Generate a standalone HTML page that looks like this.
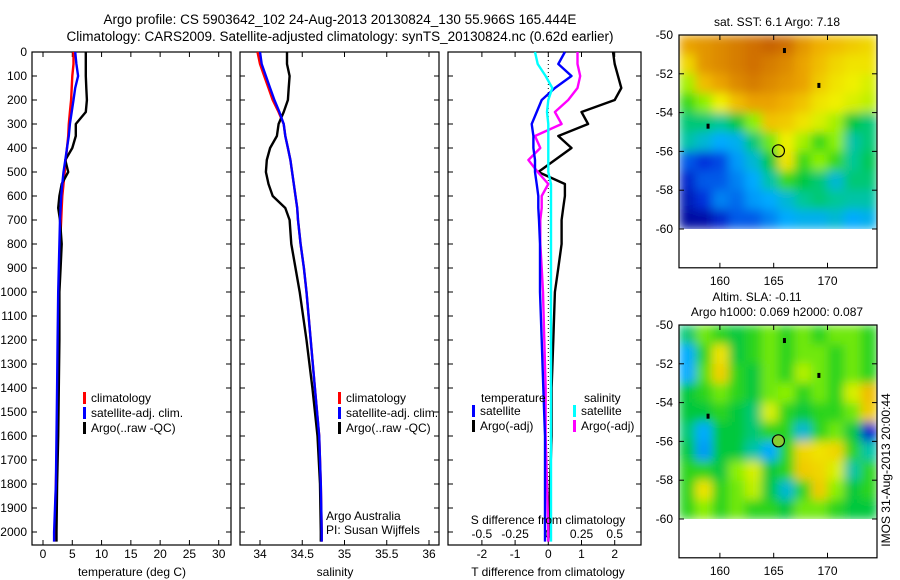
<!DOCTYPE html>
<html><head><meta charset="utf-8">
<style>
html,body{margin:0;padding:0;background:#fff;}
svg{display:block;font-family:"Liberation Sans",sans-serif;}
text{font-size:12px;fill:#000;}
</style></head>
<body>
<svg id="chart" width="900" height="580" viewBox="0 0 900 580" xmlns="http://www.w3.org/2000/svg">
<defs>
<filter id="blur" x="0" y="0" width="1" height="1"><feGaussianBlur stdDeviation="5" edgeMode="duplicate"/></filter>
<clipPath id="clipTop"><rect x="679" y="35" width="198" height="194"/></clipPath>
<clipPath id="clipBot"><rect x="679" y="325" width="198" height="194"/></clipPath>
</defs>
<text x="340" y="24" text-anchor="middle" style="font-size:13.5px">Argo profile: CS 5903642_102 24-Aug-2013 20130824_130 55.966S 165.444E</text>
<text x="340" y="41" text-anchor="middle" style="font-size:13.5px">Climatology: CARS2009. Satellite-adjusted climatology: synTS_20130824.nc (0.62d earlier)</text>
<g id="g"></g>
</svg>
<script>
const depths=[0,50,100,150,200,250,300,350,400,450,500,550,600,650,700,800,900,1000,1200,1400,1600,1800,2000,2040];
const tempClim=[5.2,5.2,5.0,4.9,4.8,4.6,4.4,4.3,4.1,3.9,3.7,3.5,3.3,3.2,3.1,2.9,2.8,2.7,2.6,2.5,2.4,2.2,2.0,1.9];
const tempSat=[5.5,5.7,6.0,5.5,5.2,4.9,4.6,4.4,4.1,3.8,3.5,3.3,3.1,3.0,2.9,2.8,2.7,2.6,2.5,2.4,2.3,2.2,1.9,1.9];
const tempArgo=[7.3,7.3,7.3,7.4,7.5,7.3,5.6,5.6,5.0,3.8,4.3,3.2,2.8,2.6,2.9,3.2,3.0,2.8,2.8,2.7,2.6,2.4,2.3,2.3];
const salClim=[33.97,34.0,34.05,34.1,34.15,34.22,34.28,34.3,34.33,34.36,34.38,34.4,34.42,34.44,34.45,34.48,34.52,34.55,34.6,34.65,34.7,34.72,34.73,34.73];
const salSat=[34.0,34.02,34.07,34.12,34.17,34.23,34.28,34.3,34.33,34.36,34.38,34.4,34.42,34.44,34.45,34.48,34.52,34.55,34.6,34.65,34.7,34.72,34.73,34.73];
const salArgo=[34.32,34.32,34.35,34.34,34.33,34.28,34.22,34.2,34.12,34.08,34.07,34.1,34.15,34.3,34.35,34.37,34.42,34.47,34.55,34.62,34.68,34.71,34.72,34.72];
const tDiffArgo=[1.95,2.0,2.1,2.2,2.0,1.0,1.2,0.3,0.7,0.2,-0.3,0.5,0.5,0.45,0.4,0.4,0.3,0.2,0.15,0.1,0.1,0.05,0.02,0.0];
const tDiffSat=[0.5,0.3,0.7,0.2,-0.2,-0.35,-0.5,-0.45,-0.45,-0.4,-0.4,-0.35,-0.3,-0.3,-0.28,-0.25,-0.25,-0.25,-0.2,-0.15,-0.1,-0.1,-0.1,-0.1];
const sDiffSat=[-0.1,-0.08,-0.02,0.03,0.0,-0.01,0.0,0.0,0.0,0.0,0.0,0.02,0.02,0.02,0.02,0.02,0.02,0.02,0.02,0.02,0.02,0.02,0.02,0.02];
const sDiffArgo=[0.22,0.22,0.24,0.22,0.15,0.05,0.1,-0.1,-0.06,-0.15,-0.08,0.0,-0.05,-0.05,-0.06,-0.06,-0.05,-0.04,-0.03,-0.02,-0.02,-0.01,0.0,0.0];
const depthTicks=[0,100,200,300,400,500,600,700,800,900,1000,1100,1200,1300,1400,1500,1600,1700,1800,1900,2000];
const tempTicks=[0,5,10,15,20,25,30];
const salTicks=[34,34.5,35,35.5,36];
const tDiffTicks=[-2,-1,0,1,2];
const sDiffTicks=[-0.5,-0.25,0,0.25,0.5];
const sstGrid=[
[0.82,0.84,0.86,0.88,0.9,0.92,0.9,0.84,0.8,0.78,0.76,0.74],
[0.74,0.84,0.86,0.88,0.9,0.88,0.86,0.82,0.78,0.74,0.72,0.72],
[0.64,0.78,0.82,0.86,0.88,0.86,0.84,0.82,0.76,0.72,0.7,0.68],
[0.56,0.62,0.7,0.78,0.82,0.82,0.8,0.77,0.72,0.7,0.68,0.66],
[0.45,0.45,0.42,0.5,0.62,0.77,0.76,0.72,0.68,0.64,0.5,0.45],
[0.4,0.35,0.3,0.32,0.45,0.6,0.7,0.64,0.56,0.62,0.4,0.45],
[0.2,0.15,0.18,0.28,0.35,0.5,0.72,0.56,0.62,0.56,0.42,0.48],
[0.12,0.2,0.2,0.25,0.3,0.4,0.56,0.5,0.45,0.35,0.45,0.45],
[0.08,0.15,0.25,0.22,0.28,0.3,0.35,0.42,0.45,0.42,0.4,0.4],
[0.04,0.05,0.12,0.2,0.2,0.25,0.3,0.32,0.32,0.35,0.3,0.32]];
const slaGrid=[
[0.45,0.6,0.55,0.5,0.55,0.6,0.55,0.6,0.55,0.6,0.6,0.55],
[0.3,0.55,0.72,0.5,0.55,0.6,0.55,0.6,0.6,0.55,0.6,0.55],
[0.3,0.58,0.75,0.55,0.5,0.6,0.55,0.65,0.6,0.55,0.6,0.55],
[0.5,0.55,0.6,0.55,0.5,0.6,0.62,0.55,0.6,0.55,0.68,0.78],
[0.5,0.5,0.55,0.5,0.45,0.68,0.55,0.5,0.55,0.55,0.6,0.76],
[0.45,0.3,0.5,0.5,0.45,0.55,0.55,0.35,0.55,0.6,0.5,0.12],
[0.5,0.28,0.5,0.5,0.4,0.3,0.55,0.74,0.72,0.74,0.55,0.4],
[0.55,0.55,0.5,0.62,0.68,0.5,0.55,0.76,0.74,0.68,0.4,0.55],
[0.55,0.72,0.55,0.6,0.66,0.5,0.35,0.55,0.76,0.62,0.5,0.55],
[0.55,0.62,0.55,0.6,0.55,0.55,0.5,0.6,0.6,0.55,0.5,0.5]];
const latTicks=[-50,-52,-54,-56,-58,-60];
const lonTicks=[160,165,170];

const NS="http://www.w3.org/2000/svg";
const G=document.getElementById('g');
function el(tag,attrs,parent){const e=document.createElementNS(NS,tag);for(const k in attrs)e.setAttribute(k,attrs[k]);(parent||G).appendChild(e);return e;}
function txt(s,x,y,anchor,size){const e=el('text',{x:x,y:y,'text-anchor':anchor||'start'});if(size)e.style.fontSize=size+'px';e.textContent=s;return e;}

const yD=d=>52+d*0.24;
const PY0=52,PY1=545;
function panel(x0,x1,name){const r=el('rect',{x:x0,y:PY0,width:x1-x0,height:PY1-PY0,fill:'none',stroke:'#000','stroke-width':1.2});

}
function line(xs,sx,color,name,w){let d='';xs.forEach((v,i)=>{d+=(i?'L':'M')+sx(v).toFixed(1)+','+yD(depths[i]).toFixed(1);});
const p=el('path',{d:d,fill:'none',stroke:color,'stroke-width':w||2.4,'stroke-linejoin':'round'});

}
function xticks(ticks,sx,labelY){ticks.forEach(t=>{const x=sx(t);el('line',{x1:x,x2:x,y1:PY1,y2:PY1-5,stroke:'#000'});el('line',{x1:x,x2:x,y1:PY0,y2:PY0+5,stroke:'#000'});
const tl=txt(String(t),x,labelY,'middle');

});}
function legend(x,y,items){items.forEach((it,i)=>{el('rect',{x:x,y:y+i*15-10,width:3,height:12,fill:it[0]});
const t=txt(it[1],x+8,y+i*15);

});}

// Panel 1 temperature
const sxT=v=>43+v*5.857;
panel(32,231,'temperature-panel');
depthTicks.forEach(d=>{const y=yD(d);el('line',{x1:32,x2:37,y1:y,y2:y,stroke:'#000'});el('line',{x1:226,x2:231,y1:y,y2:y,stroke:'#000'});
const t=txt(String(d),27,y+4,'end');

});
xticks(tempTicks,sxT,558);
line(tempClim,sxT,'#f00','temp-climatology-line');
line(tempArgo,sxT,'#000','temp-argo-line');
line(tempSat,sxT,'#00f','temp-satellite-line');
legend(83,402,[['#f00','climatology'],['#00f','satellite-adj. clim.'],['#000','Argo(..raw -QC)']]);
const xl1=txt('temperature (deg C)',132,576,'middle');

// Panel 2 salinity
const sxS=v=>260+(v-34)*84.5;
panel(240,439,'salinity-panel');
depthTicks.forEach(d=>{const y=yD(d);el('line',{x1:240,x2:245,y1:y,y2:y,stroke:'#000'});el('line',{x1:434,x2:439,y1:y,y2:y,stroke:'#000'});});
xticks(salTicks,sxS,558);
line(salClim,sxS,'#f00','salinity-climatology-line');
line(salArgo,sxS,'#000','salinity-argo-line');
line(salSat,sxS,'#00f','salinity-satellite-line');
legend(338,402,[['#f00','climatology'],['#00f','satellite-adj. clim.'],['#000','Argo(..raw -QC)']]);
txt('Argo Australia',326,520);txt('PI: Susan Wijffels',326,534);
const xl2=txt('salinity',335,576,'middle');

// Panel 3 differences
const sxTd=v=>548.3+v*33.2;
const sxSd=v=>548.3+v*132.8;
panel(448,641,'difference-panel');
depthTicks.forEach(d=>{const y=yD(d);el('line',{x1:448,x2:453,y1:y,y2:y,stroke:'#000'});el('line',{x1:636,x2:641,y1:y,y2:y,stroke:'#000'});});
el('line',{x1:sxTd(0),x2:sxTd(0),y1:PY0,y2:PY1,stroke:'#000','stroke-dasharray':'1,3'});
xticks(tDiffTicks,sxTd,558);
sDiffTicks.forEach(t=>{const tl=txt(String(t),sxSd(t),538,'middle');});
line(tDiffArgo,sxTd,'#000','t-diff-argo-line');
line(sDiffArgo,sxSd,'#f0f','s-diff-argo-line');
line(tDiffSat,sxTd,'#00f','t-diff-satellite-line');
line(sDiffSat,sxSd,'#0ff','s-diff-satellite-line');
txt('temperature',481,402);txt('salinity',584,402);
legend(472,415,[['#00f','satellite'],['#000','Argo(-adj)']]);
legend(573,415,[['#0ff','satellite'],['#f0f','Argo(-adj)']]);
txt('S difference from climatology',548,524,'middle');
const xl3=txt('T difference from climatology',548,576,'middle');

// Maps
const cStops=[[0,[0,0,140]],[0.15,[0,50,220]],[0.3,[0,170,255]],[0.42,[0,200,150]],[0.52,[0,200,40]],[0.62,[140,240,0]],[0.7,[240,240,0]],[0.8,[240,176,0]],[0.9,[208,112,0]],[1,[170,50,0]]];
function cmap(v){v=Math.max(0,Math.min(1,v));for(let i=1;i<cStops.length;i++){if(v<=cStops[i][0]){const a=cStops[i-1],b=cStops[i];const f=(v-a[0])/(b[0]-a[0]);
return 'rgb('+a[1].map((c,k)=>Math.round(c+(b[1][k]-c)*f)).join(',')+')';}}return 'rgb(170,50,0)';}
const MX0=679,MX1=877,LON0=156.2,LON1=174.6;
const sxLon=l=>MX0+(l-LON0)*(MX1-MX0)/(LON1-LON0);
function map(top,grid,name,circleFill,clip){
 const syLat=l=>top+(-50-l)*19.4;
 const rows=grid.length,cols=grid[0].length;
 const cw=(MX1-MX0)/cols,rh=(syLat(-60)-syLat(-50))/rows;
 const cg=el('g',{'clip-path':'url(#'+clip+')'});
 const bg=el('g',{filter:'url(#blur)'},cg);
 grid.forEach((row,r)=>row.forEach((v,c)=>{const cell=el('rect',{x:MX0+c*cw,y:top+r*rh,width:cw+0.5,height:rh+0.5,fill:cmap(v)},bg);
 
 }));
 const f=el('rect',{x:MX0,y:top,width:MX1-MX0,height:syLat(-62)-top,fill:'none',stroke:'#000','stroke-width':1.2});
 
 
 latTicks.forEach(l=>{const y=syLat(l);el('line',{x1:MX0,x2:MX0+5,y1:y,y2:y,stroke:'#000'});el('line',{x1:MX1-5,x2:MX1,y1:y,y2:y,stroke:'#000'});
 const t=txt(String(l),673,y+4,'end');});
 lonTicks.forEach(l=>{const x=sxLon(l);el('line',{x1:x,x2:x,y1:top,y2:top+5,stroke:'#000'});el('line',{x1:x,x2:x,y1:syLat(-62),y2:syLat(-62)-5,stroke:'#000'});
 const t=txt(String(l),x,syLat(-62)+17,'middle');});
 [[166,-50.8],[169.2,-52.6],[158.9,-54.7]].forEach(p=>el('rect',{x:sxLon(p[0])-1.5,y:syLat(p[1])-2.5,width:3,height:5,fill:'#000'}));
 const c=el('circle',{cx:sxLon(165.44),cy:syLat(-55.97),r:6,fill:circleFill,stroke:'#000','stroke-width':1.2});
 
 
}
map(35,sstGrid,'sst-map','none','clipTop');
map(325,slaGrid,'sla-map','#8c3','clipBot');
txt('sat. SST: 6.1  Argo: 7.18',777,26,'middle');
txt('Altim. SLA: -0.11',757,301,'middle');
txt('Argo h1000: 0.069 h2000: 0.087',777,316,'middle');
const ts=txt('IMOS 31-Aug-2013 20:00:44',0,0,'middle');
ts.setAttribute('transform','translate(890,470) rotate(-90)');


</script>
</body></html>
